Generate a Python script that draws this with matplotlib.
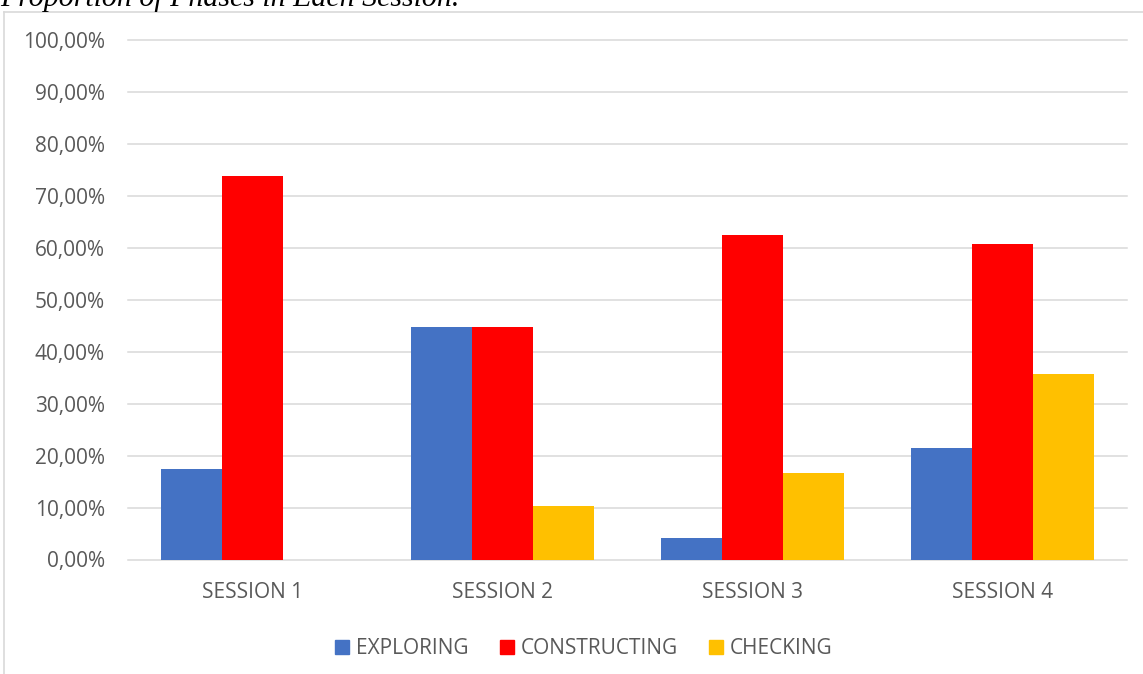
import matplotlib.pyplot as plt
import numpy as np
from matplotlib.ticker import FuncFormatter
from matplotlib.patches import Patch
from matplotlib.lines import Line2D

plt.rcParams['font.family'] = ['Open Sans', 'DejaVu Sans']

# 数据（百分比）
sessions = ['SESSION 1', 'SESSION 2', 'SESSION 3', 'SESSION 4']
phases = ['EXPLORING', 'CONSTRUCTING', 'CHECKING']
exploring = [17.39, 44.83, 4.17, 21.43]
constructing = [73.91, 44.83, 62.50, 60.71]
checking = [0.0, 10.34, 16.67, 35.71]
colors = ['#4472C4', '#FF0000', '#FFC000']

W, H = 1143, 674
fig = plt.figure(figsize=(W / 100, H / 100), dpi=100)

# 图表外框（浅灰）
fig.add_artist(Line2D([4 / W, 4 / W], [0, 1 - 12 / H], color='#d9d9d9', lw=1.2))
fig.add_artist(Line2D([4 / W, 1], [1 - 12 / H, 1 - 12 / H], color='#d9d9d9', lw=1.2))

# 标题（上半部分被裁掉）
fig.text(0, 1 - 6 / H, 'Proportion of Phases in Each Session.', family='Liberation Serif',
         style='italic', fontsize=21.5, va='baseline', ha='left', color='black')

# 绘图区域：x 128~1127，y 40(100%)~559.5(0%)
ax = fig.add_axes([128 / W, 1 - 559.5 / H, (1127 - 128) / W, (559.5 - 40) / H])

x = np.arange(len(sessions))
bw = 0.244
for i, vals in enumerate([exploring, constructing, checking]):
    ax.bar(x + (i - 1) * bw, vals, width=bw, color=colors[i], label=phases[i], zorder=3)

ax.set_xlim(-0.5, 3.5)
ax.set_ylim(0, 100)
ax.set_yticks(np.arange(0, 101, 10))
ax.yaxis.set_major_formatter(FuncFormatter(lambda v, p: f'{v:.2f}%'.replace('.', ',')))
ax.set_xticks(x)
ax.set_xticklabels(sessions)

ax.grid(axis='y', color='#d9d9d9', lw=1.1, zorder=0)
for gl in ax.get_ygridlines():
    gl.set_clip_on(False)
for s in ax.spines.values():
    s.set_visible(False)
ax.tick_params(length=0, labelsize=15, labelcolor='#595959')
ax.tick_params(axis='y', pad=16.5)
ax.tick_params(axis='x', pad=16)

# 图例
handles = [Patch(color=c) for c in colors]
fig.legend(handles, phases, loc='center', bbox_to_anchor=(584 / W, 1 - 649 / H), ncol=3,
           frameon=False, fontsize=15, labelcolor='#595959', handlelength=0.67, handleheight=0.67,
           handletextpad=0.33, columnspacing=1.5)

plt.savefig('out.png', dpi=100)
